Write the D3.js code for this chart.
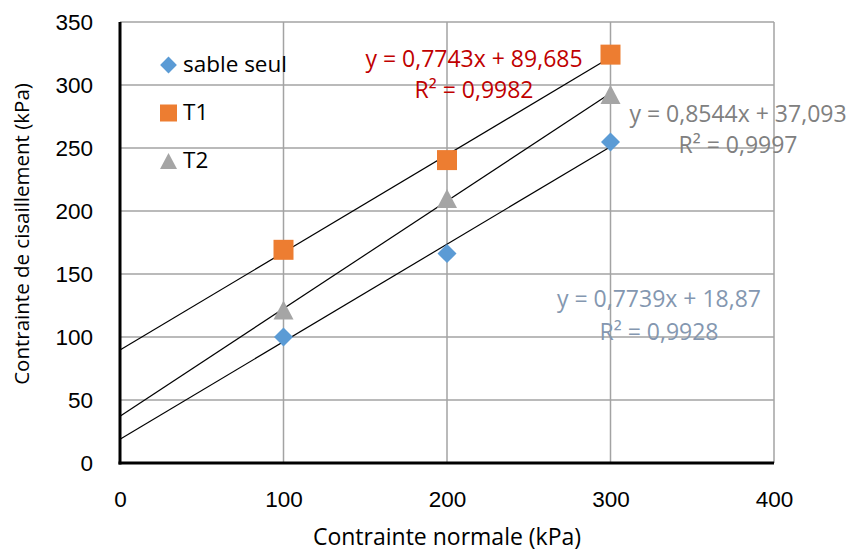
<!DOCTYPE html>
<html>
<head>
<meta charset="utf-8">
<script src="https://cdn.jsdelivr.net/npm/d3@7"></script>
<style>
  body { margin: 0; background: #fff; }
  svg { font-family: 'Open Sans', sans-serif; }
  .graph__axis path, .graph__axis line { display: none; }
  .graph__axis text { font-size: 22.5px; fill: #000; }
</style>
</head>
<body>
<div id="graph"></div>
<script>
const xValues = [100, 200, 300];
const sableSeul = [100, 166.2, 254.8];
const t1 = [169.2, 240.4, 324.1];
const t2 = [121.5, 210.0, 292.4];
const xTicks = [0, 100, 200, 300, 400];
const yTicks = [0, 50, 100, 150, 200, 250, 300, 350];

// taller-than-equilateral triangle, as in the original markers
const triangle = {
  draw(context, size) {
    const w = Math.sqrt(size) / 2;
    const h = w * 0.95;
    context.moveTo(0, -h);
    context.lineTo(w, h);
    context.lineTo(-w, h);
    context.closePath();
  }
};

const series = [
  { name: 'sable seul', values: sableSeul, color: '#5b9bd5', shape: d3.symbolDiamond2, size: 230, legendSize: 180,
    slope: 0.7739, intercept: 18.87, eq: 'y = 0,7739x + 18,87', r2: 'R² = 0,9928', labelColor: '#8497b0' },
  { name: 'T1', values: t1, color: '#ed7d31', shape: d3.symbolSquare, size: 400, legendSize: 289,
    slope: 0.7743, intercept: 89.685, eq: 'y = 0,7743x + 89,685', r2: 'R² = 0,9982', labelColor: '#c00000' },
  { name: 'T2', values: t2, color: '#a5a5a5', shape: triangle, size: 400, legendSize: 289,
    slope: 0.8544, intercept: 37.093, eq: 'y = 0,8544x + 37,093', r2: 'R² = 0,9997', labelColor: '#808080' },
];

const canvasWidth = 851;
const canvasHeight = 553;
const margins = { top: 22, right: 77, bottom: 90, left: 120 };
const width = canvasWidth - margins.left - margins.right;
const height = canvasHeight - margins.top - margins.bottom;

const svg = d3.select('#graph')
  .append('svg')
    .attr('width', canvasWidth)
    .attr('height', canvasHeight);

const graph = svg.append('g')
  .attr('transform', `translate(${margins.left}, ${margins.top})`);

const scaleX = d3.scaleLinear().domain([0, 400]).range([0, width]);
const scaleY = d3.scaleLinear().domain([0, 350]).range([height, 0]);

// gridlines
graph.append('g')
  .selectAll('line')
  .data(yTicks.filter(d => d > 0))
  .enter().append('line')
    .attr('x1', 0).attr('x2', width)
    .attr('y1', d => scaleY(d)).attr('y2', d => scaleY(d))
    .attr('stroke', '#a3a3a3').attr('stroke-width', 1.5);
graph.append('g')
  .selectAll('line')
  .data(xTicks.filter(d => d > 0))
  .enter().append('line')
    .attr('x1', d => scaleX(d)).attr('x2', d => scaleX(d))
    .attr('y1', 0).attr('y2', height)
    .attr('stroke', '#a3a3a3').attr('stroke-width', 1.5);

// axes
graph.append('g')
  .attr('class', 'graph__axis graph__axis--x')
  .attr('transform', `translate(0, ${height})`)
  .call(d3.axisBottom(scaleX).tickValues(xTicks).tickSize(0).tickPadding(28));
graph.append('g')
  .attr('class', 'graph__axis graph__axis--y')
  .call(d3.axisLeft(scaleY).tickValues(yTicks).tickSize(0).tickPadding(27));

graph.append('line')
  .attr('x1', 0).attr('x2', 0).attr('y1', 0).attr('y2', height + 1.5)
  .attr('stroke', '#000').attr('stroke-width', 3);
graph.append('line')
  .attr('x1', -1.5).attr('x2', width).attr('y1', height).attr('y2', height)
  .attr('stroke', '#000').attr('stroke-width', 3);

// axis titles
svg.append('text')
  .attr('x', 447)
  .attr('y', 545)
  .attr('text-anchor', 'middle')
  .attr('font-size', 23)
  .text('Contrainte normale (kPa)');
svg.append('text')
  .attr('transform', 'translate(29, 234) rotate(-90)')
  .attr('text-anchor', 'middle')
  .attr('font-size', 20.5)
  .text('Contrainte de cisaillement (kPa)');

// trendlines
graph.append('g')
  .selectAll('line')
  .data(series)
  .enter().append('line')
    .attr('x1', scaleX(0)).attr('y1', d => scaleY(d.intercept))
    .attr('x2', scaleX(300)).attr('y2', d => scaleY(d.slope * 300 + d.intercept))
    .attr('stroke', '#000').attr('stroke-width', 1.2);

// markers
series.forEach(s => {
  graph.append('g')
    .selectAll('path')
    .data(s.values)
    .enter().append('path')
      .attr('d', d3.symbol().type(s.shape).size(s.size))
      .attr('transform', (d, i) => `translate(${scaleX(xValues[i])}, ${scaleY(d)})`)
      .attr('fill', s.color);
});

// legend
const legendPos = [65, 113, 161];
series.forEach((s, i) => {
  svg.append('path')
    .attr('d', d3.symbol().type(s.shape).size(s.legendSize))
    .attr('transform', `translate(168.5, ${legendPos[i]})`)
    .attr('fill', s.color);
  svg.append('text')
    .attr('x', 183).attr('y', legendPos[i] + 7)
    .attr('font-size', 22.5)
    .text(s.name);
});

// equation labels
const eqPos = [
  { x: 659, y1: 307, y2: 340 },
  { x: 474, y1: 67, y2: 98 },
  { x: 738, y1: 122, y2: 153 },
];
series.forEach((s, i) => {
  svg.append('text')
    .attr('x', eqPos[i].x).attr('y', eqPos[i].y1)
    .attr('text-anchor', 'middle').attr('font-size', 23)
    .attr('fill', s.labelColor)
    .text(s.eq);
  svg.append('text')
    .attr('x', eqPos[i].x).attr('y', eqPos[i].y2)
    .attr('text-anchor', 'middle').attr('font-size', 23)
    .attr('fill', s.labelColor)
    .text(s.r2);
});
</script>
</body>
</html>
